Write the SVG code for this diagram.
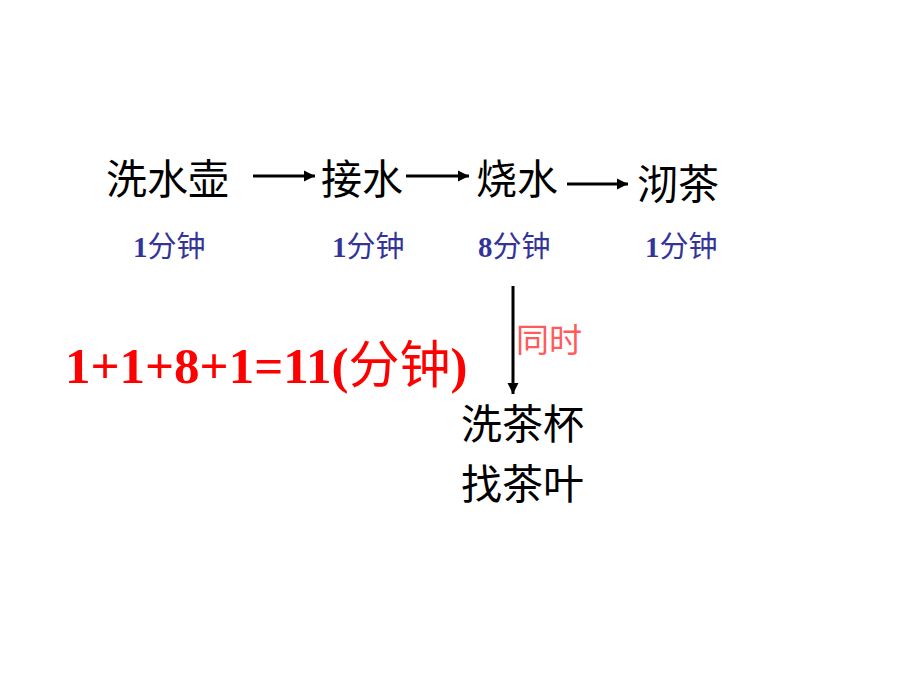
<svg xmlns="http://www.w3.org/2000/svg" width="920" height="690" viewBox="0 0 920 690">
<style>
.step{font-family:"Noto Sans CJK SC","Noto Sans CJK JP",sans-serif;font-size:41px;fill:#000}
.time{font-family:"Liberation Serif","Noto Sans CJK SC",serif;font-size:29px;fill:#333399;font-weight:bold}
.cjk{font-family:"Noto Sans CJK SC",sans-serif;font-weight:normal}
.eq{font-family:"Liberation Serif","Noto Sans CJK SC",serif;font-size:51px;fill:#FF0000;font-weight:bold}
.note{font-family:"Noto Sans CJK SC",sans-serif;font-size:33px;fill:#FF5B5B}
.conn{stroke:#000;stroke-width:3;fill:none}
</style>
<defs>
<marker id="ah" markerUnits="userSpaceOnUse" markerWidth="12" markerHeight="12" refX="11" refY="6" orient="auto">
<path d="M0,0.5 L11,6 L0,11.5 Z" fill="#000"/>
</marker>
</defs>
<rect width="920" height="690" fill="#fff"/>
<g id="connectors">
<line class="conn" x1="253" y1="176" x2="315" y2="176" marker-end="url(#ah)"/>
<line class="conn" x1="406" y1="176" x2="469" y2="176" marker-end="url(#ah)"/>
<line class="conn" x1="567" y1="184" x2="628" y2="184" marker-end="url(#ah)"/>
<line class="conn" x1="513" y1="286" x2="513" y2="394" marker-end="url(#ah)"/>
</g>
<g id="node-wash-kettle">
<text class="step" x="106" y="194">洗水壶</text>
<text class="time" x="133" y="257">1<tspan class="cjk">分钟</tspan></text>
</g>
<g id="node-fill-water">
<text class="step" x="321" y="194">接水</text>
<text class="time" x="332" y="257">1<tspan class="cjk">分钟</tspan></text>
</g>
<g id="node-boil-water">
<text class="step" x="476" y="194">烧水</text>
<text class="time" x="478" y="257">8<tspan class="cjk">分钟</tspan></text>
</g>
<g id="node-make-tea">
<text class="step" x="637" y="199">沏茶</text>
<text class="time" x="645" y="257">1<tspan class="cjk">分钟</tspan></text>
</g>
<g id="label-simultaneous">
<text class="note" x="516" y="352">同时</text>
</g>
<g id="node-parallel">
<text class="step" x="461" y="439">洗茶杯</text>
<text class="step" x="461" y="499">找茶叶</text>
</g>
<g id="equation">
<text class="eq" x="65" y="383">1+1+8+1=11(<tspan class="cjk">分钟</tspan>)</text>
</g>
</svg>
